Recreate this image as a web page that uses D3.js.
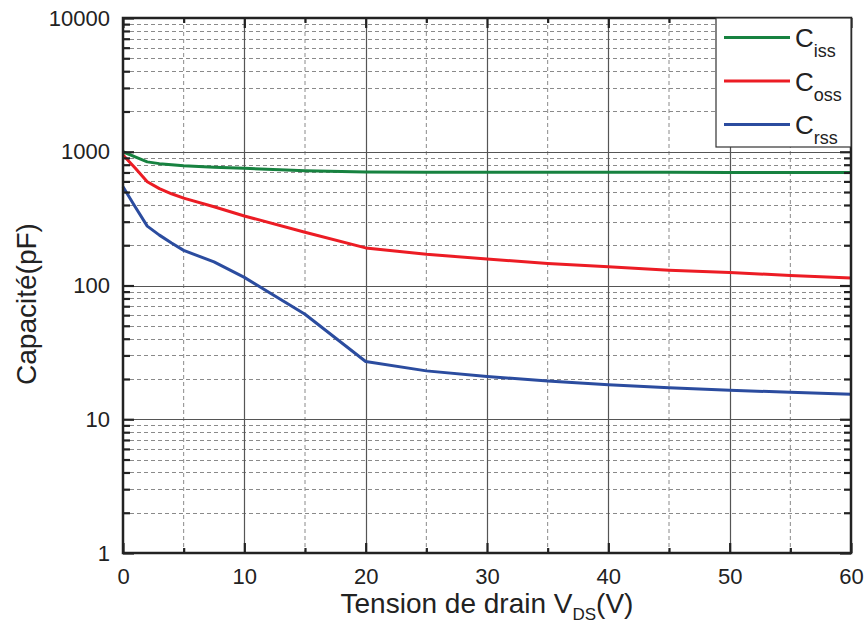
<!DOCTYPE html>
<html>
<head>
<meta charset="utf-8">
<script src="https://cdn.jsdelivr.net/npm/d3@7"></script>
<style>
  body { margin: 0; background: #fff; overflow: hidden; }
  svg { display: block; font-family: "Liberation Sans", Arial, sans-serif; }
</style>
</head>
<body>
<div class="chart"></div>
<script>
const width = 868;
const height = 643;
const margin = {top: 18, right: 17, bottom: 90, left: 123};
const innerWidth = width - margin.left - margin.right;
const innerHeight = height - margin.top - margin.bottom;

// tension de drain (V)
const vds = [0, 1, 2, 3, 4, 5, 7.5, 10, 15, 20, 25, 30, 35, 40, 45, 50, 55, 60];
// capacités en pF
const ciss = [1000, 915, 840, 815, 798, 785, 765, 752, 722, 705, 704, 703, 703, 702, 702, 701, 701, 700];
const coss = [946, 756, 597, 530, 485, 450, 388, 331, 250, 191, 171, 158, 146, 138, 130, 125, 119, 114];
const crss = [548, 388, 278, 238, 208, 183, 150, 115, 61, 27, 23, 20.9, 19.3, 18.1, 17.2, 16.5, 15.9, 15.4];

const xTicks = [0, 10, 20, 30, 40, 50, 60];
const xMinor = [5, 15, 25, 35, 45, 55];
const yTicks = [1, 10, 100, 1000, 10000];

const seriesNames = ['iss', 'oss', 'rss'];
const seriesValues = [ciss, coss, crss];
const colors = ['#178240', '#ec1c24', '#2b4c9f'];

const svg = d3.select('.chart').append('svg')
  .attr('width', width)
  .attr('height', height);

const g = svg.append('g').attr('transform', `translate(${margin.left},${margin.top})`);

const x = d3.scaleLinear().domain([0, 60]).range([0, innerWidth]);
const y = d3.scaleLog().domain([1, 10000]).range([innerHeight, 0]);

// minor log values 2..9 in every decade
const yMinor = [];
[1, 10, 100, 1000].forEach(d => { for (let k = 2; k <= 9; k++) yMinor.push(d * k); });

// grid
const grid = g.append('g');
grid.selectAll('.gx-minor').data(xMinor).enter().append('line')
  .attr('x1', d => x(d)).attr('x2', d => x(d))
  .attr('y1', 0).attr('y2', innerHeight)
  .attr('stroke', '#8a8a8a').attr('stroke-width', 1).attr('stroke-dasharray', '4,3');
grid.selectAll('.gy-minor').data(yMinor).enter().append('line')
  .attr('x1', 0).attr('x2', innerWidth)
  .attr('y1', d => Math.round(y(d)) + 0.5).attr('y2', d => Math.round(y(d)) + 0.5)
  .attr('stroke', '#8a8a8a').attr('stroke-width', 1).attr('stroke-dasharray', '4,3');
grid.selectAll('.gx-major').data(xTicks.slice(1, -1)).enter().append('line')
  .attr('x1', d => Math.round(x(d)) + 0.5).attr('x2', d => Math.round(x(d)) + 0.5)
  .attr('y1', 0).attr('y2', innerHeight)
  .attr('stroke', '#555').attr('stroke-width', 1.2);
grid.selectAll('.gy-major').data(yTicks.slice(1, -1)).enter().append('line')
  .attr('x1', 0).attr('x2', innerWidth)
  .attr('y1', d => Math.round(y(d)) + 0.5).attr('y2', d => Math.round(y(d)) + 0.5)
  .attr('stroke', '#555').attr('stroke-width', 1.2);

// curves
const line = d3.line()
  .x((d, i) => x(vds[i]))
  .y(d => y(d));

seriesValues.forEach((vals, i) => {
  g.append('path')
    .datum(vals)
    .attr('fill', 'none')
    .attr('stroke', colors[i])
    .attr('stroke-width', 3)
    .attr('stroke-linejoin', 'round')
    .attr('d', line);
});

// axes, ticks pointing inward on all four sides
function styleAxis(sel) {
  sel.selectAll('.domain').remove();
  sel.selectAll('line').attr('stroke', '#222').attr('stroke-width', 2.2);
  sel.selectAll('text').filter(function() { return this.textContent === ''; }).remove();
  sel.selectAll('text').attr('fill', '#222').attr('font-size', 22);
}

g.append('g').attr('transform', `translate(0,${innerHeight})`)
  .call(d3.axisBottom(x).tickValues(xTicks).tickFormat(d3.format('d')).tickSizeInner(-10).tickSizeOuter(0).tickPadding(15))
  .call(styleAxis);
g.append('g').attr('transform', `translate(0,${innerHeight})`)
  .call(d3.axisBottom(x).tickValues(xMinor).tickFormat('').tickSizeInner(-5).tickSizeOuter(0))
  .call(styleAxis);
g.append('g')
  .call(d3.axisTop(x).tickValues(xTicks).tickFormat('').tickSizeInner(-10).tickSizeOuter(0))
  .call(styleAxis);
g.append('g')
  .call(d3.axisTop(x).tickValues(xMinor).tickFormat('').tickSizeInner(-5).tickSizeOuter(0))
  .call(styleAxis);

g.append('g')
  .call(d3.axisLeft(y).tickValues(yTicks).tickFormat(d3.format('d')).tickSizeInner(-11).tickSizeOuter(0).tickPadding(13))
  .call(styleAxis);
g.append('g')
  .call(d3.axisLeft(y).tickValues(yMinor).tickFormat('').tickSizeInner(-7).tickSizeOuter(0))
  .call(styleAxis);
g.append('g').attr('transform', `translate(${innerWidth},0)`)
  .call(d3.axisRight(y).tickValues(yTicks).tickFormat('').tickSizeInner(-11).tickSizeOuter(0))
  .call(styleAxis);
g.append('g').attr('transform', `translate(${innerWidth},0)`)
  .call(d3.axisRight(y).tickValues(yMinor).tickFormat('').tickSizeInner(-7).tickSizeOuter(0))
  .call(styleAxis);

// frame
g.append('rect')
  .attr('x', 0).attr('y', 0)
  .attr('width', innerWidth).attr('height', innerHeight)
  .attr('fill', 'none').attr('stroke', '#222').attr('stroke-width', 2.5);

// legend
const legendW = 135, legendH = 129;
const legend = g.append('g').attr('transform', `translate(${innerWidth - legendW},0)`);
legend.append('rect')
  .attr('width', legendW).attr('height', legendH)
  .attr('fill', '#fff').attr('stroke', '#333').attr('stroke-width', 1.2);

const item = legend.selectAll('.legend-item')
  .data(seriesNames)
  .enter().append('g')
  .attr('transform', (d, i) => `translate(0,${19.5 + i * 43.5})`);

item.append('line')
  .attr('x1', 8).attr('x2', 74)
  .attr('stroke', (d, i) => colors[i])
  .attr('stroke-width', 3);

const lt = item.append('text')
  .attr('x', 79).attr('y', 9.5)
  .attr('fill', '#222')
  .attr('font-size', 26);
lt.append('tspan').text('C');
lt.append('tspan').attr('dy', 10).attr('font-size', 18).text(d => d);

// axis titles
svg.append('text')
  .attr('x', margin.left + innerWidth / 2)
  .attr('y', 613)
  .attr('text-anchor', 'middle')
  .attr('fill', '#222')
  .attr('font-size', 28)
  .call(t => {
    t.append('tspan').text('Tension de drain V');
    t.append('tspan').attr('dy', 7).attr('font-size', 17).text('DS');
    t.append('tspan').attr('dy', -7).text('(V)');
  });

svg.append('g')
  .attr('transform', 'translate(36,304)')
  .append('text')
  .attr('transform', 'rotate(-90)')
  .attr('text-anchor', 'middle')
  .attr('fill', '#222')
  .attr('font-size', 28)
  .text('Capacité(pF)');
</script>
</body>
</html>
